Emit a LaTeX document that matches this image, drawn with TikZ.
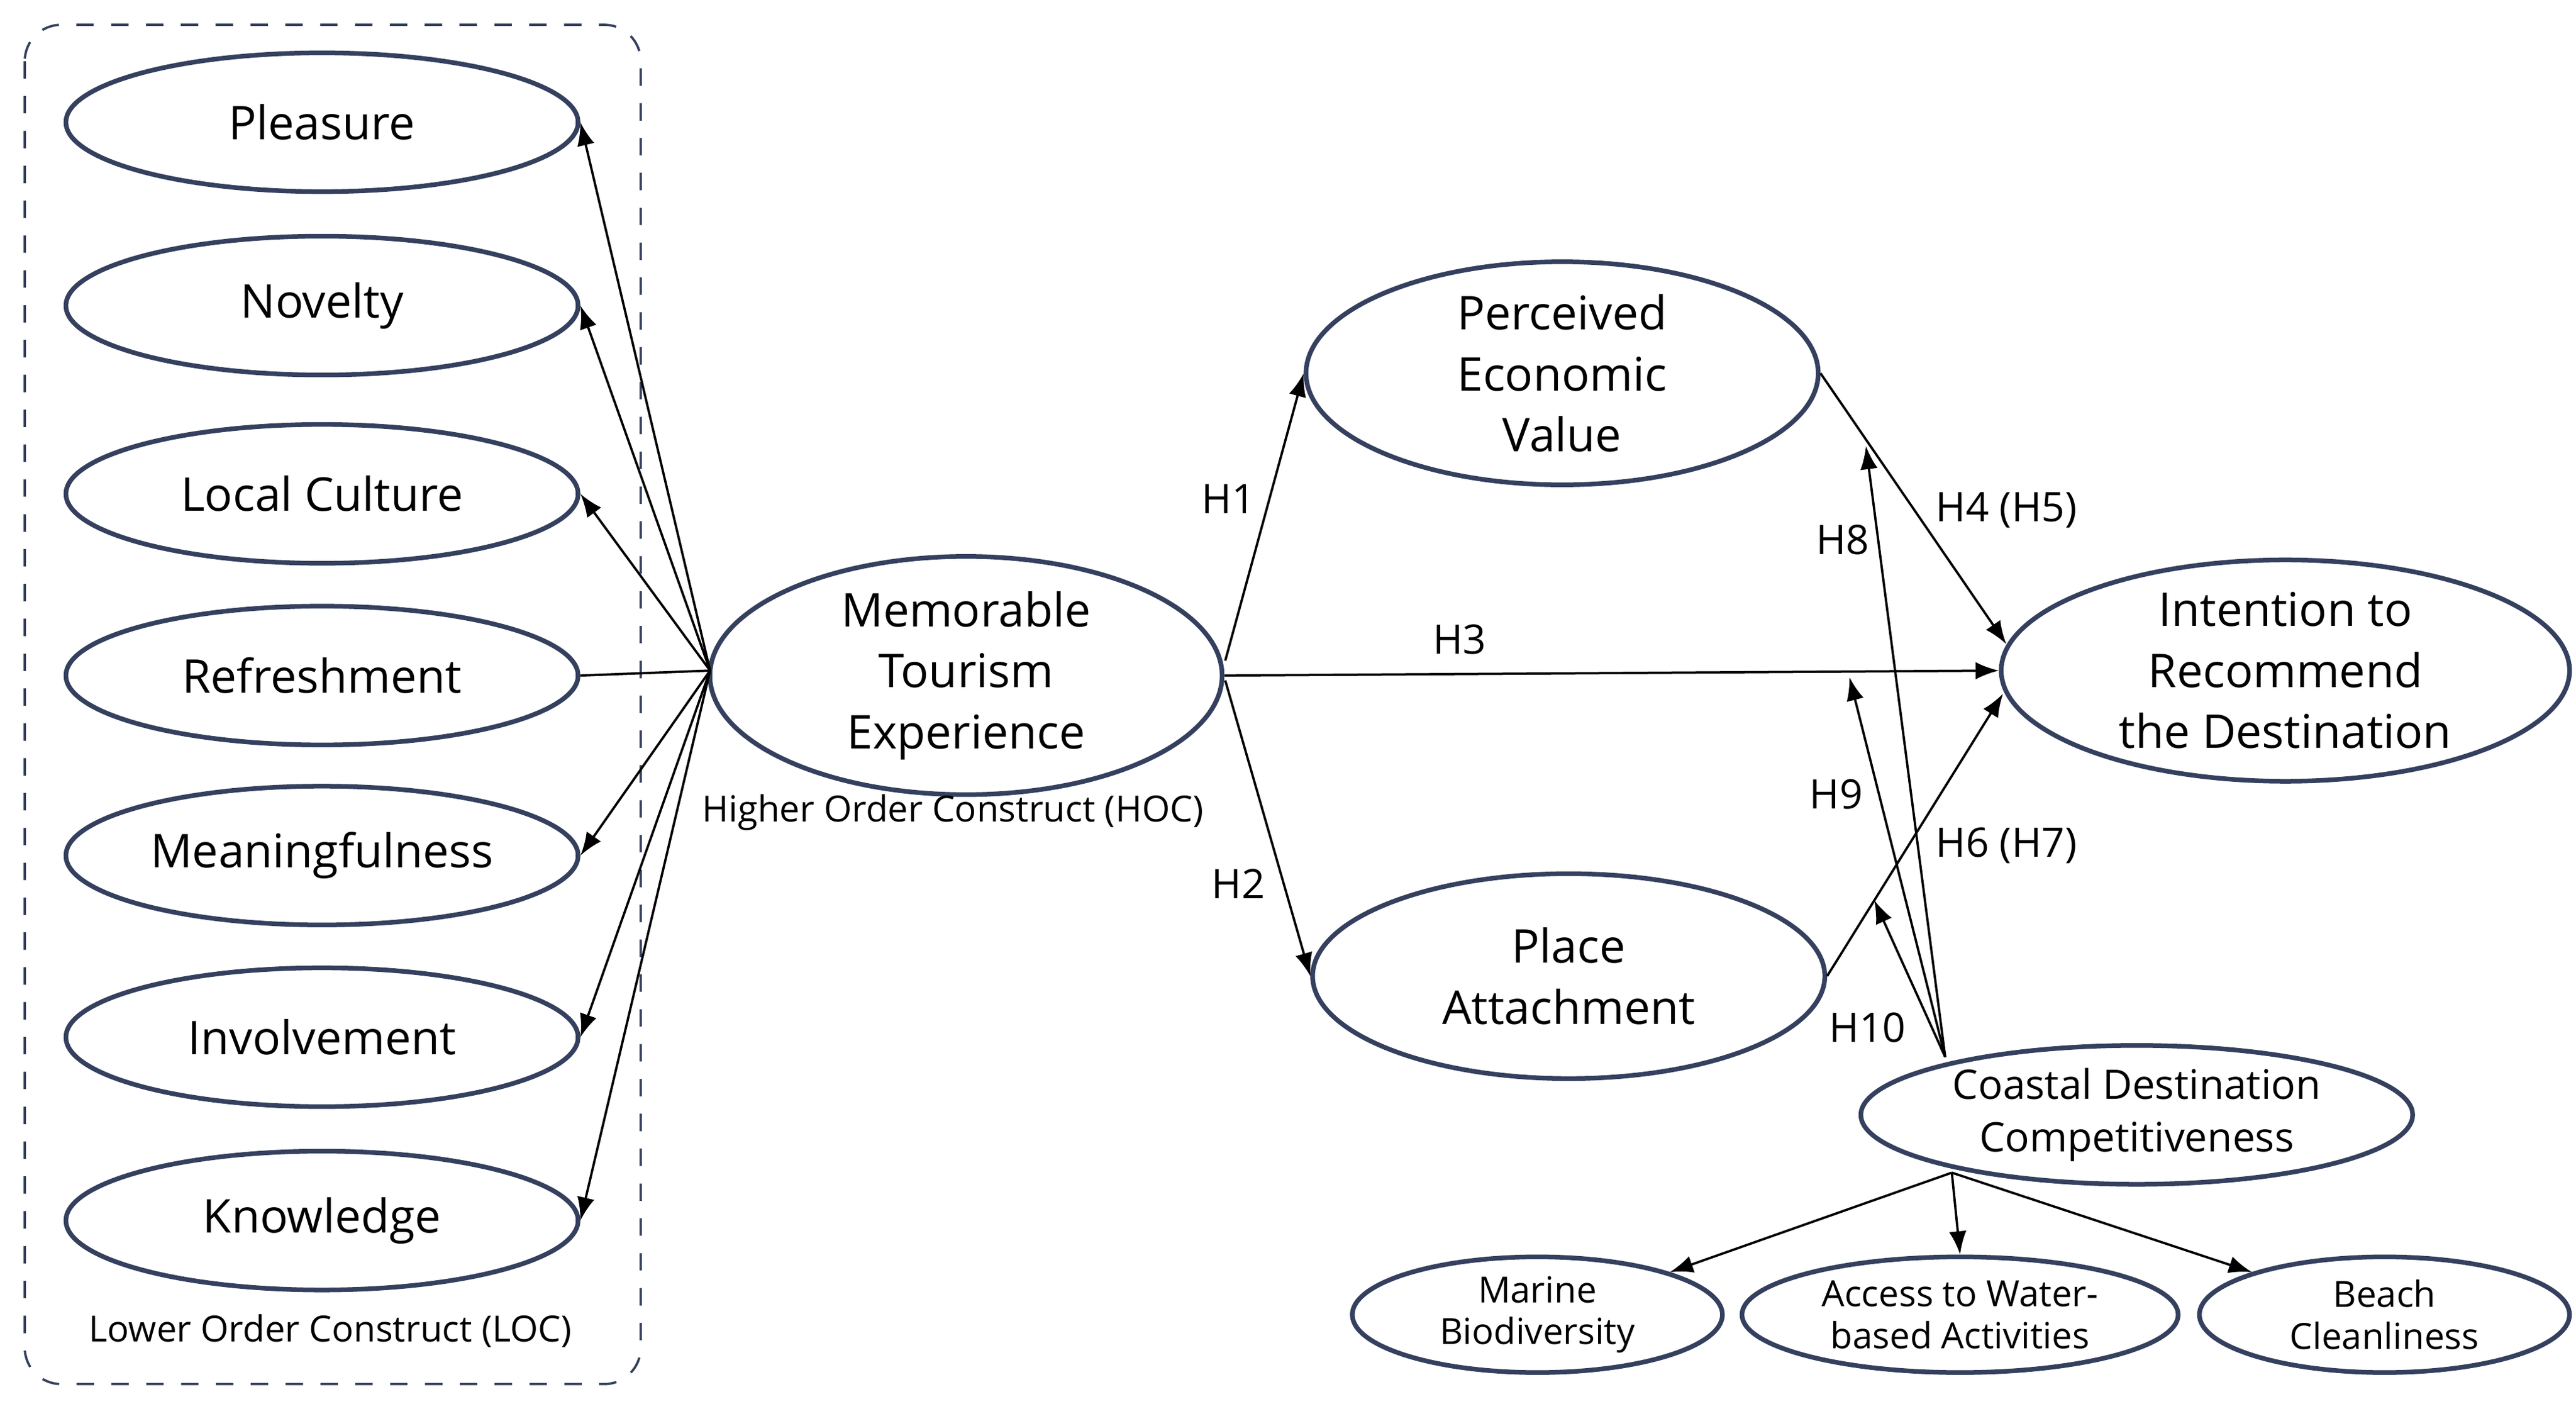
\documentclass[tikz,border=0pt]{standalone}
\usepackage{fontspec}
\setmainfont{Open Sans}
\usetikzlibrary{shapes.geometric,arrows.meta}
\definecolor{navy}{HTML}{34405E}
\begin{document}
\begin{tikzpicture}[x=0.01cm, y=-0.01cm,
    loc/.style={ellipse, draw=navy, thick, inner sep=0, minimum width=3.1cm, minimum height=0.84cm, font=\fontsize{8}{9.5}\selectfont},
    big/.style={ellipse, draw=navy, thick, inner sep=0, minimum width=3.1cm, minimum height=1.24cm, align=center, font=\fontsize{8}{10.5}\selectfont},
    small/.style={ellipse, draw=navy, thick, inner sep=0, minimum width=2.24cm, minimum height=0.7cm, align=center, font=\fontsize{6.2}{7.2}\selectfont},
    arr/.style={-{Latex[length=4pt,width=3pt]}, thin},
    lbl/.style={font=\fontsize{7}{8}\selectfont}]
   \useasboundingbox (0,0) rectangle (1560,850);
   \draw[navy, dashed, rounded corners=0.22cm] (15,15) rectangle (388,838);
   \node[font=\fontsize{6.2}{7}\selectfont] (LOC) at (200,806) {Lower Order Construct (LOC)};
   \node[loc] (L1) at (195,74) {Pleasure};
   \node[loc] (L2) at (195,185) {Novelty};
   \node[loc] (L3) at (195,299) {Local Culture};
   \node[loc] (L4) at (195,409) {Refreshment};
   \node[loc] (L5) at (195,518) {Meaningfulness};
   \node[loc] (L6) at (195,628) {Involvement};
   \node[loc] (L7) at (195,739) {Knowledge};
   \node[big] (MTE) at (585,409) {Memorable\\Tourism\\Experience};
   \node[font=\fontsize{6.2}{7}\selectfont] (HOC) at (577,492) {Higher Order Construct (HOC)};
   \node[big] (PEV) at (946,226) {Perceived\\Economic\\Value};
   \node[big] (PA) at (950,591) {Place\\Attachment};
   \node[big, minimum width=3.44cm] (ITR) at (1384,406) {Intention to\\Recommend\\the Destination};
   \node[big, minimum width=3.34cm, minimum height=0.84cm, font=\fontsize{7}{9}\selectfont] (CDC) at (1294,675) {Coastal Destination\\Competitiveness};
   \node[small] (S1) at (931,796) {Marine\\Biodiversity};
   \node[small, minimum width=2.64cm] (S2) at (1187,796) {Access to Water-\\based Activities};
   \node[small] (S3) at (1444,796) {Beach\\Cleanliness};
   \coordinate (m) at (430,406);
   \foreach \i in {1,2,3,5,6,7} \draw[arr] (m) -- (L\i.east);
   \draw (m) -- (L4.east);
   \draw[arr] (742,400) -- (PEV.west);
   \draw[arr] (742,412) -- (PA.west);
   \draw[arr] (MTE.east) -- (ITR.west);
   \draw[arr] (PEV.east) -- (1215,390);
   \draw[arr] (PA.east) -- (1213,420);
   \coordinate (c) at (1178,640);
   \draw[arr] (c) -- (1130,270);
   \draw[arr] (c) -- (1120,410);
   \draw[arr] (c) -- (1135,545);
   \coordinate (b) at (1182,710);
   \draw[arr] (b) -- (S1.north east);
   \draw[arr] (b) -- (S2.north);
   \draw[arr] (b) -- (S3.north west);
   \node[lbl] (h1) at (744,302) {H1};
   \node[lbl] (h2) at (750,535) {H2};
   \node[lbl] (h3) at (884,387) {H3};
   \node[lbl] (h4) at (1215,309) {H4 (H5)};
   \node[lbl] (h6) at (1215,512) {H6 (H7)};
   \node[lbl] (h8) at (1116,327) {H8};
   \node[lbl] (h9) at (1112,481) {H9};
   \node[lbl] (h10) at (1131,622) {H10};
\end{tikzpicture}
\end{document}
